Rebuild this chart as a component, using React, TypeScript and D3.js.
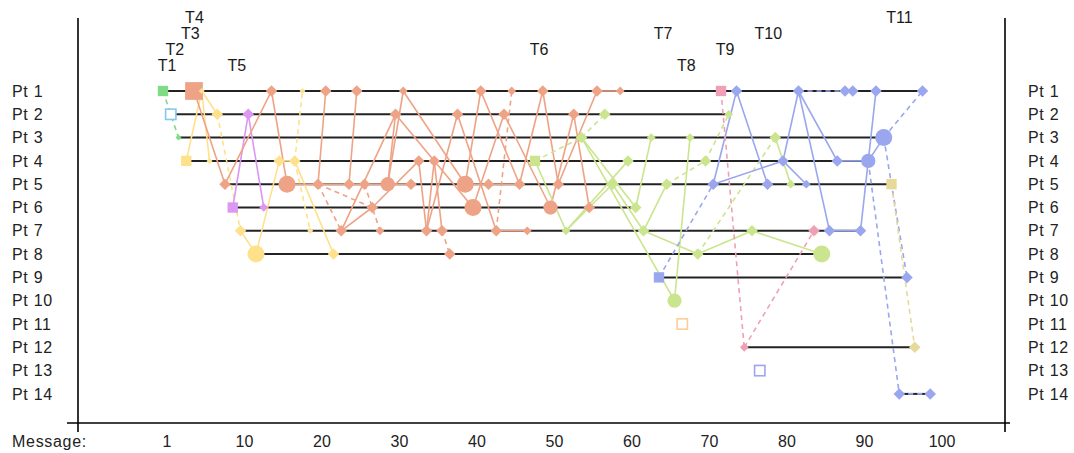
import React from "react";
import * as d3 from "d3";

// ---------- data ----------
const participants = ["Pt 1","Pt 2","Pt 3","Pt 4","Pt 5","Pt 6","Pt 7","Pt 8","Pt 9","Pt 10","Pt 11","Pt 12","Pt 13","Pt 14"];
const threads = ["T1","T2","T3","T4","T5","T6","T7","T8","T9","T10","T11"];
const threadColors = ["#7fdc86","#86c8ee","#ffe18c","#eea386","#dc97f2","#cbe58e","#9aa6ee","#ffcc98","#f0a0b6","#9ea4ee","#e6d99a"];
const threadHollow = [false,true,false,false,false,false,false,true,false,true,false];
const threadLabelRow = [0,1,2,3,0,1,2,0,1,2,3];

// message index -> participant (1-based)
const msgParticipant = [
  1,2,3,4,1,1,4,2,5,6, 7,2,8,6,1,4,5,4,1,7,
  5,1,8,7,5,1,5,6,7,5, 2,1,5,4,7,4,7,8,2,5,
  6,1,5,7,2,1,5,7,4,1, 6,5,7,2,3,6,1,2,5,1,
  4,6,7,3,9,5,10,11,3,8, 4,5,1,2,1,12,7,13,5,3,
  4,5,1,5,7,8,7,4,1,1, 7,4,1,3,5,14,9,12,1,14,
];
// message index -> thread (1-based)
const msgThread = [
  1,2,1,3,4,3,3,3,4,5, 3,5,3,5,4,3,4,3,3,3,
  4,4,3,4,4,4,4,4,4,4, 4,4,4,4,4,4,4,4,4,4,
  4,4,4,4,4,4,4,4,6,4, 4,4,6,4,6,4,4,6,6,4,
  6,6,6,6,7,6,6,8,6,6, 6,7,9,6,7,9,6,10,7,6,
  7,6,7,7,9,6,7,7,7,7, 7,7,7,7,11,7,7,11,7,7,
];
// message weight (marker size class)
const msgWeight = [
  3,3,1,3,6,1,1,3,3,3, 3,3,5,2,3,3,5,3,1,1,
  3,3,3,3,3,3,3,3,2,4, 3,2,3,3,3,3,3,3,3,5,
  5,3,3,3,3,2,3,2,3,3, 4,3,2,3,3,3,3,3,3,2,
  3,3,3,2,3,3,4,3,2,3, 3,3,3,2,3,2,3,3,3,3,
  3,2,3,2,3,5,3,3,3,3, 3,4,3,5,3,3,3,3,3,3,
];
// reply links: [from message, to message, dashed]
const replyLinks: [number, number, number][] = [
  [0,2,1],
  [3,5,0],[5,6,0],[5,7,0],[7,10,1],[10,12,0],[12,15,0],[15,17,0],[17,18,1],[17,19,1],[17,22,0],
  [9,11,0],[11,13,0],
  [4,8,0],[8,14,0],[14,16,0],[16,20,0],[20,21,0],[20,23,1],[20,24,0],[20,27,1],[24,25,0],[24,26,0],
  [23,27,0],[26,28,1],[26,29,0],[29,30,0],[29,31,0],[29,32,0],[27,33,0],[33,34,0],[34,35,0],[35,36,0],
  [36,37,1],[34,38,0],[31,39,0],[30,40,0],[39,41,0],[39,42,0],[38,43,0],[40,44,0],[43,45,1],[42,46,0],
  [41,46,0],[43,47,0],[46,49,0],[44,50,0],[49,51,0],[50,53,0],[53,55,0],[51,56,0],[56,59,0],[23,30,0],
  [48,52,0],[48,54,1],[54,57,1],[52,58,0],[52,60,0],[54,61,0],[58,62,0],[61,63,0],[62,65,0],[54,66,0],
  [66,68,0],[62,69,0],[65,70,1],[70,73,1],[69,76,0],[69,79,1],[79,81,0],[76,85,0],
  [64,71,1],[71,74,0],[74,78,0],[71,80,0],[80,82,0],[80,83,0],[82,86,0],[82,87,0],[82,88,1],[88,89,1],
  [86,90,0],[87,91,0],[90,91,0],[91,92,0],[91,93,0],[91,95,1],[93,96,1],[93,98,1],[95,99,1],
  [72,75,1],[75,84,1],
  [94,97,1],
];
const tickValues = [0,10,20,30,40,50,60,70,80,90,100];
const tickLabels = ["1","10","20","30","40","50","60","70","80","90","100"];

// ---------- layout ----------
const W = 1074, H = 453;
const FONT = "'Liberation Sans', Arial, sans-serif";

export default function App() {
  const x = d3.scaleLinear().domain([0, 99]).range([163, 930.25]);
  const y = d3.scalePoint<string>().domain(participants).range([91, 393.9]);
  const r = d3.scaleLinear().domain([1, 5]).range([3, 8.5]);

  const msgs = msgParticipant.map((p, i) => ({
    i, p, t: msgThread[i], w: msgWeight[i],
    cx: x(i), cy: y(participants[p - 1]) as number,
  }));
  const firstOfThread = threads.map((_, ti) => msgs.find(m => m.t === ti + 1)!);

  const ptLines = participants.map((name, pi) => {
    const ms = msgs.filter(m => m.p === pi + 1);
    const ext = d3.extent(ms, m => m.cx) as [number, number];
    return { name, y: y(name) as number, x0: ext[0], x1: ext[1], n: ms.length };
  });

  const sym = (type: d3.SymbolType, size: number) => d3.symbol().type(type).size(size)() as string;
  const labelStyle = { fontSize: 16, fill: "#222", letterSpacing: "0.7px" } as const;

  return (
    <svg width={W} height={H} style={{ position: "absolute", left: 0, top: 0, background: "#fff" }}
      fontFamily={FONT}>
      {/* axes frame */}
      <line x1={78} x2={78} y1={18} y2={432} stroke="#000" strokeWidth={1.6} />
      <line x1={1005} x2={1005} y1={18} y2={432} stroke="#000" strokeWidth={1.6} />
      <line x1={67} x2={1010} y1={423} y2={423} stroke="#000" strokeWidth={1.6} />

      {/* participant labels */}
      {ptLines.map(l => (
        <g key={l.name}>
          <text x={12} y={l.y} dy="0.35em" style={labelStyle}>{l.name}</text>
          <text x={1028} y={l.y} dy="0.35em" style={labelStyle}>{l.name}</text>
        </g>
      ))}

      {/* x tick labels */}
      <text x={12} y={441} dy="0.35em" style={labelStyle}>Message:</text>
      {tickValues.map((v, k) => (
        <text key={v} x={x(v) + 4} y={441} dy="0.35em" fontSize={16} fill="#222" textAnchor="middle">{tickLabels[k]}</text>
      ))}

      {/* participant timelines */}
      {ptLines.filter(l => l.n > 1).map(l => (
        <line key={l.name} x1={l.x0} x2={l.x1} y1={l.y} y2={l.y} stroke="#222" strokeWidth={2} />
      ))}

      {/* reply links */}
      {replyLinks.map(([a, b, dashed], k) => {
        const ma = msgs[a], mb = msgs[b];
        return (
          <line key={k} x1={ma.cx} y1={ma.cy} x2={mb.cx} y2={mb.cy}
            stroke={threadColors[mb.t - 1]} strokeWidth={1.6}
            strokeDasharray={dashed ? "5,4" : undefined} />
        );
      })}

      {/* markers */}
      {msgs.map(m => {
        const color = threadColors[m.t - 1];
        const rad = r(m.w);
        const isStart = firstOfThread[m.t - 1].i === m.i;
        if (isStart) {
          const side = 1.8 * rad;
          const hollow = threadHollow[m.t - 1];
          return (
            <rect key={m.i} x={m.cx - side / 2} y={m.cy - side / 2} width={side} height={side}
              fill={hollow ? "#fff" : color} stroke={color} strokeWidth={hollow ? 1.6 : 0} />
          );
        }
        if (m.w >= 4) {
          return <path key={m.i} d={sym(d3.symbolCircle, Math.PI * rad * rad)}
            transform={`translate(${m.cx},${m.cy})`} fill={color} />;
        }
        return <path key={m.i} d={sym(d3.symbolSquare, 2 * rad * rad)}
          transform={`translate(${m.cx},${m.cy}) rotate(45)`} fill={color} />;
      })}

      {/* thread labels */}
      {firstOfThread.map((m, ti) => {
        const side = 1.8 * r(m.w);
        return (
          <text key={ti} x={m.cx - side / 2} y={71 - threadLabelRow[ti] * 16}
            fontSize={16} fill="#1a1a1a">{threads[ti]}</text>
        );
      })}
    </svg>
  );
}
